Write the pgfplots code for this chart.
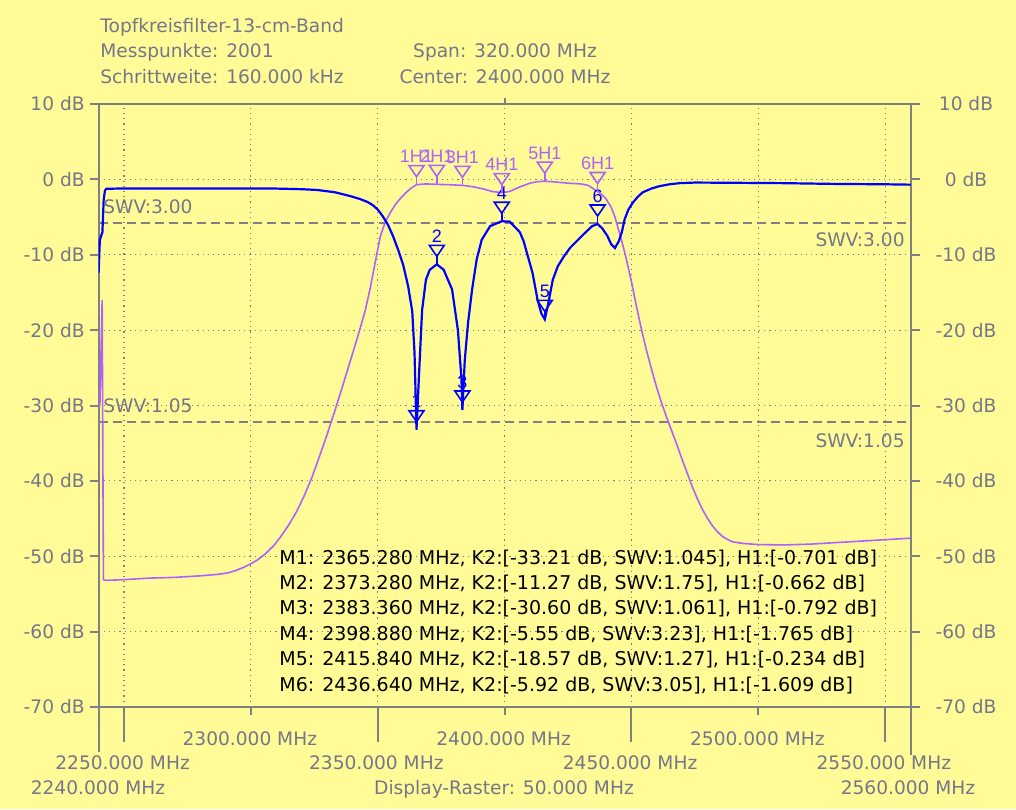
\documentclass[border=0pt]{standalone}
\usepackage{pgfplots}
\pgfplotsset{compat=1.18}
\usepackage{fontspec}
\setmainfont{DejaVu Sans}
\newfontfamily\mkfont{Liberation Sans}

\definecolor{bg}{RGB}{255,251,150}
\definecolor{axgray}{RGB}{128,128,128}
\definecolor{txtgray}{RGB}{118,118,138}
\definecolor{k2blue}{RGB}{0,0,255}
\definecolor{h1violet}{RGB}{176,96,255}

% downward marker triangle, tip on the point, with a short stem
\pgfdeclareplotmark{vtri}{%
  \pgfpathmoveto{\pgfqpoint{0pt}{0pt}}%
  \pgfpathlineto{\pgfqpoint{0pt}{4pt}}%
  \pgfusepathqstroke
  \pgfpathmoveto{\pgfqpoint{0pt}{4pt}}%
  \pgfpathlineto{\pgfqpoint{-3.75pt}{9.5pt}}%
  \pgfpathlineto{\pgfqpoint{3.75pt}{9.5pt}}%
  \pgfpathclose
  \pgfusepathqstroke
}

\begin{document}
\begin{tikzpicture}[font=\fontsize{9.3}{11}\selectfont]
\path[use as bounding box, fill=bg] (-49.3pt,-51pt) rectangle (458.7pt,353.5pt);

\begin{axis}[
  at={(0pt,0pt)}, anchor=south west,
  scale only axis, width=406pt, height=301.5pt,
  xmin=2240, xmax=2560, ymin=-70, ymax=10,
  axis line style={draw=axgray, line width=1pt},
  xtick={2250,2300,...,2550}, ytick={-70,-60,...,10},
  xticklabels={}, yticklabels={},
  grid=major,
  major grid style={draw=axgray, line width=0.6pt, dash pattern=on 0.6pt off 2pt},
  tick align=outside, major tick length=4.5pt,
  xtick style={draw=none},
  ytick style={draw=axgray, line width=1pt},
  ytick pos=both,
]
% SWV reference lines
\addplot[axgray, line width=0.95pt, dash pattern=on 4.5pt off 2.5pt] coordinates {(2240,-5.75) (2560,-5.75)};
\addplot[axgray, line width=0.95pt, dash pattern=on 4.5pt off 2.5pt] coordinates {(2240,-32.2) (2560,-32.2)};

% H1 (transmission)
\addplot[h1violet, line width=0.8pt] coordinates {
(2240.5,-30) (2241.4,-16) (2241.9,-53.1) (2243,-53.2) (2250,-53.1) (2260,-52.9)
(2270,-52.8) (2280,-52.6) (2287,-52.4) (2291,-52.2) (2294,-51.9) (2297,-51.5)
(2300,-51.0) (2303,-50.4) (2306,-49.6) (2309,-48.6) (2312,-47.3) (2315,-45.8)
(2318,-44.1) (2321,-42.0) (2324,-39.6) (2327,-36.8) (2330,-33.9) (2333,-30.8)
(2336,-27.6) (2339,-24.3) (2342,-21.0) (2345,-17.5) (2347,-14.5) (2349,-11.0)
(2351,-7.6) (2353,-5.6) (2355,-4.4) (2357,-3.3) (2359,-2.5) (2361,-1.8)
(2363,-1.2) (2365.28,-0.701) (2369,-0.6) (2373.28,-0.662)
(2378,-0.7) (2383.36,-0.792) (2388,-1.0) (2392,-1.3) (2395,-1.6) (2398.88,-1.765)
(2402,-1.6) (2406,-1.0) (2410,-0.5) (2413,-0.3) (2415.84,-0.234) (2420,-0.35)
(2425,-0.5) (2430,-0.6) (2433,-0.8) (2436.64,-1.609) (2438,-1.9) (2440,-2.6)
(2442,-3.7) (2443.5,-5.0) (2445,-6.8) (2446.5,-8.6) (2448,-10.6) (2450,-13.6)
(2452,-16.9) (2454,-20.0) (2456,-22.8) (2458,-25.3) (2460,-27.7) (2462,-29.8)
(2464,-31.7) (2466,-33.5) (2468,-35.3) (2470,-37.2) (2472,-39.0) (2474,-40.8)
(2476,-42.4) (2478,-43.8) (2480,-45.0) (2482,-46.0) (2484,-46.8) (2486,-47.4)
(2488,-47.8) (2490,-48.1) (2494,-48.3) (2500,-48.45) (2510,-48.5) (2520,-48.4)
(2535,-48.1) (2550,-47.8) (2560,-47.6)
};

% K2 (reflection)
\addplot[k2blue, line width=1.1pt] coordinates {
(2240,-12.4) (2240.5,-8) (2241.5,-7) (2242,-2.7) (2242.5,-1.5) (2243,-1.25)
(2250,-1.2) (2270,-1.2) (2290,-1.2) (2310,-1.22) (2320,-1.3) (2326,-1.4)
(2333,-1.7) (2339,-2.2) (2343,-2.6) (2346,-3.0) (2348,-3.4) (2350,-4.0)
(2352,-4.9) (2354,-6.0) (2356,-7.5) (2358,-9.3) (2360,-11.3) (2362,-14.2)
(2363.6,-17.5) (2364.5,-23) (2365.28,-33.21) (2366.4,-25) (2367.5,-17.3)
(2369,-13.3) (2370.5,-12) (2373.28,-11.27) (2376,-12) (2379.3,-14.6)
(2381.6,-20) (2383,-26.5) (2383.36,-30.6) (2384.3,-24) (2385.6,-19)
(2387.2,-14.6) (2389,-10.6) (2391,-8.0) (2394.3,-6.2) (2398.88,-5.55)
(2402,-5.6) (2406,-7.0) (2407.5,-8.2) (2411,-12.4) (2413,-16) (2414.5,-17.8)
(2415.84,-18.57) (2417,-16.8) (2419,-13.3) (2421,-11.5) (2423.4,-10.2)
(2426,-9.0) (2429,-8.0) (2432,-7.0) (2434.5,-6.2) (2436.64,-5.92) (2438.5,-6.5)
(2440.5,-7.5) (2442,-8.6) (2443.5,-9.1) (2445,-8.2) (2446.2,-7) (2447.3,-5.3)
(2448.8,-4.0) (2450.5,-3.1) (2452.5,-2.3) (2454.5,-1.7) (2458,-1.2) (2461,-0.9)
(2465,-0.65) (2469,-0.5) (2475,-0.42) (2490,-0.45) (2510,-0.5) (2530,-0.6)
(2550,-0.65) (2560,-0.7)
};

% markers
\addplot[only marks, mark=vtri, mark options={draw=k2blue, line width=0.8pt},
  point meta=explicit symbolic, nodes near coords,
  every node near coord/.append style={anchor=south, yshift=10pt, inner sep=0.5pt,
    font=\mkfont\fontsize{9}{10}\selectfont, text=k2blue}]
  coordinates {(2365.28,-33.21) [1] (2373.28,-11.27) [2] (2383.36,-30.60) [3]
               (2398.88,-5.55) [4] (2415.84,-18.57) [5] (2436.64,-5.92) [6]};
\addplot[only marks, mark=vtri, mark options={draw=h1violet, line width=0.8pt},
  point meta=explicit symbolic, nodes near coords,
  every node near coord/.append style={anchor=south, yshift=10pt, inner sep=0.5pt,
    font=\mkfont\fontsize{9}{10}\selectfont, text=h1violet}]
  coordinates {(2365.28,-0.701) [1H1] (2373.28,-0.662) [2H1] (2383.36,-0.792) [3H1]
               (2398.88,-1.765) [4H1] (2415.84,-0.234) [5H1] (2436.64,-1.609) [6H1]};
\end{axis}

% axis extensions and x ticks
\draw[axgray, line width=1pt] (0,0) -- (0,-22.5pt);
\draw[axgray, line width=1pt] (406pt,0) -- (406pt,-24pt);
\draw[axgray, line width=1pt] (203pt,301.5pt) -- ++(0,3pt);
\foreach \f in {2250,2350,2450,2550}
  \draw[axgray, line width=1pt] ({(\f-2240)*1.26875pt},0) -- ++(0,-17.5pt);
\foreach \f in {2300,2400,2500}
  \draw[axgray, line width=1pt] ({(\f-2240)*1.26875pt},0) -- ++(0,-4pt);

% y tick labels
\foreach \v in {10,0,-10,-20,-30,-40,-50,-60,-70} {
  \node[anchor=east, inner sep=0, text=txtgray] at (-6.8pt,{(\v+70)*3.76875pt}) {\v\ dB};
  \node[anchor=center, inner sep=0, text=txtgray] at (433.7pt,{(\v+70)*3.76875pt}) {\v\ dB};
}

% x tick labels
\foreach \f in {2300,2400,2500}
  \node[anchor=base, inner sep=0, text=txtgray] at ({(\f-2240)*1.26875pt-0.5pt},-19pt) {\f.000 MHz};
\foreach \f in {2250,2350,2450,2550}
  \node[anchor=base, inner sep=0, text=txtgray] at ({(\f-2240)*1.26875pt-0.7pt},-31pt) {\f.000 MHz};
\node[anchor=base, inner sep=0, text=txtgray] at (-0.3pt,-43.5pt) {2240.000 MHz};
\node[anchor=base, inner sep=0, text=txtgray] at (202.7pt,-43.5pt) {Display-Raster: 50.000 MHz};
\node[anchor=base, inner sep=0, text=txtgray] at (404.7pt,-43.5pt) {2560.000 MHz};

% header
\node[anchor=base west, inner sep=0, text=txtgray] at (0.7pt,337pt) {Topfkreisfilter-13-cm-Band};
\node[anchor=base west, inner sep=0, text=txtgray] at (0.7pt,324.5pt) {Messpunkte: 2001};
\node[anchor=base west, inner sep=0, text=txtgray] at (0.7pt,311.5pt) {Schrittweite: 160.000 kHz};
\node[anchor=base, inner sep=0, text=txtgray] at (203.2pt,324.5pt) {Span: 320.000 MHz};
\node[anchor=base, inner sep=0, text=txtgray] at (203.2pt,311.5pt) {Center: 2400.000 MHz};

% SWV labels
\node[anchor=base west, inner sep=0, text=txtgray] at (2.2pt,246.6pt) {SWV:3.00};
\node[anchor=base east, inner sep=0, text=txtgray] at (403.2pt,230.3pt) {SWV:3.00};
\node[anchor=base west, inner sep=0, text=txtgray] at (2.2pt,147.2pt) {SWV:1.05};
\node[anchor=base east, inner sep=0, text=txtgray] at (403.2pt,129.9pt) {SWV:1.05};

% marker table
\begin{scope}[font=\fontsize{9.5}{11}\selectfont]
\node[anchor=base west, inner sep=0] at (90.2pt,71.5pt) {M1: 2365.280 MHz, K2:[-33.21 dB, SWV:1.045], H1:[-0.701 dB]};
\node[anchor=base west, inner sep=0] at (90.2pt,58.8pt) {M2: 2373.280 MHz, K2:[-11.27 dB, SWV:1.75], H1:[-0.662 dB]};
\node[anchor=base west, inner sep=0] at (90.2pt,46.1pt) {M3: 2383.360 MHz, K2:[-30.60 dB, SWV:1.061], H1:[-0.792 dB]};
\node[anchor=base west, inner sep=0] at (90.2pt,33.4pt) {M4: 2398.880 MHz, K2:[-5.55 dB, SWV:3.23], H1:[-1.765 dB]};
\node[anchor=base west, inner sep=0] at (90.2pt,20.7pt) {M5: 2415.840 MHz, K2:[-18.57 dB, SWV:1.27], H1:[-0.234 dB]};
\node[anchor=base west, inner sep=0] at (90.2pt,8.0pt) {M6: 2436.640 MHz, K2:[-5.92 dB, SWV:3.05], H1:[-1.609 dB]};
\end{scope}
\end{tikzpicture}
\end{document}
